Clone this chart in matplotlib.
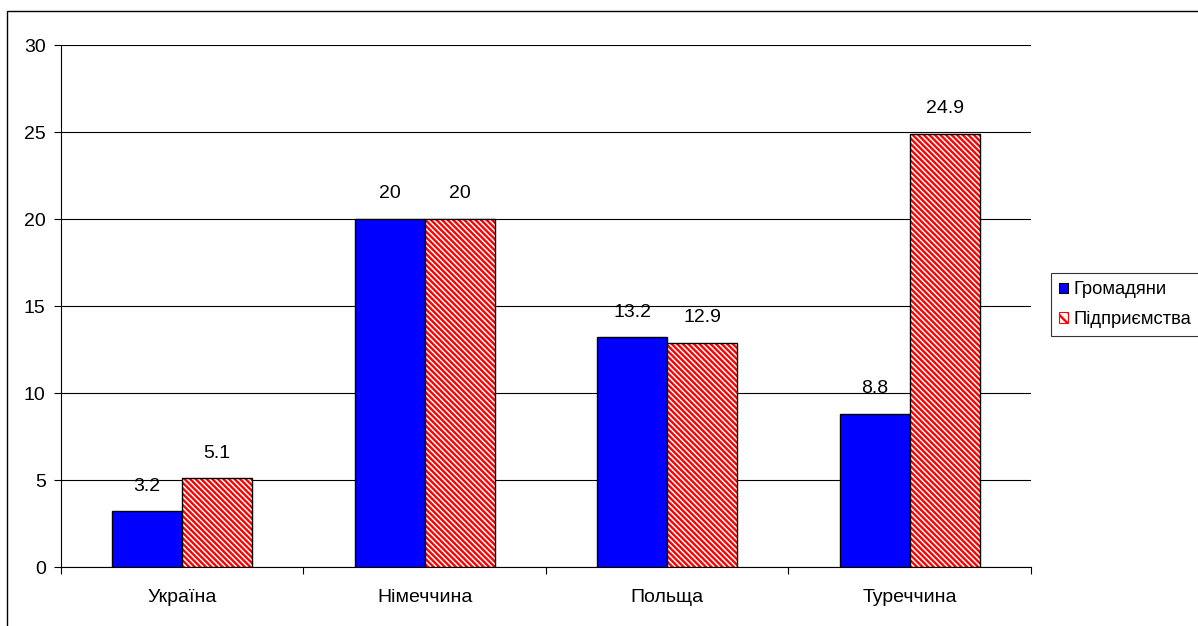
import matplotlib.pyplot as plt
import matplotlib.patches as mpatches
import numpy as np

plt.rcParams['font.family'] = ['Liberation Sans', 'DejaVu Sans']
plt.rcParams['hatch.linewidth'] = 1.7

categories = ['Україна', 'Німеччина', 'Польща', 'Туреччина']
citizens = [3.2, 20, 13.2, 8.8]
companies = [5.1, 20, 12.9, 24.9]
series_names = ['Громадяни', 'Підприємства']

FS = 14
HATCH = '\\\\\\\\\\\\'

fig = plt.figure(figsize=(11.98, 6.26), dpi=100)
ax = fig.add_axes([0.0509, 0.0942, 0.8097, 0.8339])

x = np.arange(len(categories))
w = 0.289

ax.bar(x - w / 2, citizens, w, color='#0000ff', edgecolor='black', linewidth=1, zorder=3)
ax.bar(x + w / 2, companies, w, color='white', edgecolor='red', hatch=HATCH, linewidth=0, zorder=3)
ax.bar(x + w / 2, companies, w, color='none', edgecolor='black', linewidth=1, zorder=4)

for xi, v in zip(x - w / 2, citizens):
    ax.text(xi, v + 1.45, f'{v:g}', ha='center', va='center', fontsize=FS)
for xi, v in zip(x + w / 2, companies):
    ax.text(xi, v + 1.45, f'{v:g}', ha='center', va='center', fontsize=FS)

ax.set_xlim(-0.5, len(categories) - 0.5)
ax.set_ylim(0, 30)
ax.set_yticks(range(0, 31, 5))
ax.set_xticks(np.arange(-0.5, len(categories), 1), minor=False)
ax.set_xticklabels([])
ax.set_xticks(x, minor=True)
ax.set_xticklabels(categories, minor=True, fontsize=FS)
ax.tick_params(axis='x', which='minor', length=0, pad=16)
ax.tick_params(axis='x', which='major', length=5, direction='out')
ax.tick_params(axis='y', length=5, labelsize=FS, pad=6)
ax.grid(axis='y', color='black', linewidth=0.8, zorder=0)
for s in ['top', 'right']:
    ax.spines[s].set_visible(False)
ax.spines['left'].set_linewidth(0.8)
ax.spines['bottom'].set_linewidth(0.8)

h1 = mpatches.Patch(facecolor='#0000ff', edgecolor='black', linewidth=0.8)
h2 = mpatches.Patch(facecolor='white', edgecolor='red', hatch='\\\\\\', linewidth=0.8)
leg = fig.legend([h1, h2], series_names, loc='upper left', bbox_to_anchor=(1051 / 1198, 1 - 273 / 626),
                 fontsize=13.2, frameon=True, fancybox=False, edgecolor='black', handlelength=0.5,
                 handleheight=0.5, handletextpad=0.3, borderpad=0.45, labelspacing=0.7, borderaxespad=0)
leg.get_frame().set_linewidth(0.8)

# outer chart border
fig.patches.append(mpatches.Rectangle((7 / 1198, -0.1), 1.2, 1 - 11 / 626 + 0.1, transform=fig.transFigure,
                                      fill=False, edgecolor='black', linewidth=1))

fig.savefig('out.png', dpi=100)
